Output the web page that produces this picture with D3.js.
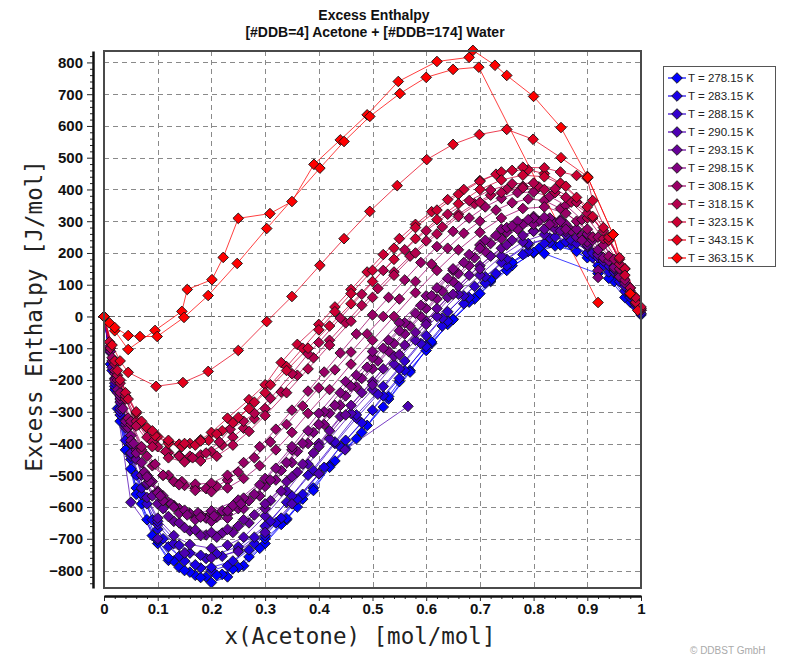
<!DOCTYPE html>
<html>
<head>
<meta charset="utf-8">
<script src="https://cdn.jsdelivr.net/npm/d3@7"></script>
<style>
  body { margin: 0; background: #fff; }
</style>
</head>
<body>
<svg id="chart" width="787" height="657" style="font-family:'Liberation Sans', Arial, sans-serif"></svg>
<script>
// Temperatures shown in the legend (K)
const temperatures = ["278.15", "283.15", "288.15", "290.15", "293.15", "298.15",
                      "308.15", "318.15", "323.15", "343.15", "363.15"];

// Axis ticks
const xTicks = [0, 0.1, 0.2, 0.3, 0.4, 0.5, 0.6, 0.7, 0.8, 0.9, 1];
const yTicks = [-800, -700, -600, -500, -400, -300, -200, -100, 0, 100, 200, 300, 400, 500, 600, 700, 800];

// Measured excess enthalpy data sets: [x(Acetone), H^E in J/mol]
const L278a = [[0,0],[0.012,-150],[0.025,-290],[0.04,-420],[0.06,-540],[0.08,-640],[0.1,-715],[0.12,-768],[0.14,-790],[0.17,-815],[0.2,-838],[0.23,-820],[0.26,-785],[0.3,-715],[0.34,-640],[0.39,-540],[0.43,-455],[0.48,-365],[0.53,-260],[0.57,-170],[0.61,-85],[0.65,-8],[0.69,55],[0.72,110],[0.76,160],[0.8,200],[0.84,222],[0.88,205],[0.92,160],[0.95,110],[0.98,45]];
const L278b = [[0,0],[0.02,-230],[0.05,-480],[0.07,-590],[0.1,-705],[0.13,-770],[0.16,-805],[0.19,-820],[0.22,-812],[0.25,-790],[0.29,-730],[0.34,-636],[0.37,-575],[0.42,-470],[0.45,-416],[0.49,-343],[0.53,-252],[0.55,-205],[0.6,-107],[0.64,-25],[0.68,45],[0.72,115],[0.76,170],[0.81,215],[0.85,225],[0.9,185],[0.94,120],[0.97,60],[1,5]];
const L278c = [[0,0],[0.03,-330],[0.06,-560],[0.09,-690],[0.12,-760],[0.15,-800],[0.18,-822],[0.21,-815],[0.24,-795],[0.27,-757],[0.3,-700],[0.33,-655],[0.36,-600],[0.39,-548],[0.42,-475],[0.47,-385],[0.52,-285],[0.57,-175],[0.61,-80],[0.65,-10],[0.7,72],[0.75,145],[0.8,202],[0.82,198],[0.92,135]];
const L283a = [[0,0],[0.015,-170],[0.03,-310],[0.05,-450],[0.07,-560],[0.1,-670],[0.12,-725],[0.15,-770],[0.18,-792],[0.2,-800],[0.23,-785],[0.27,-735],[0.3,-690],[0.33,-635],[0.37,-560],[0.41,-475],[0.45,-390],[0.5,-295],[0.55,-195],[0.6,-90],[0.63,-30],[0.67,40],[0.71,105],[0.75,160],[0.79,205],[0.83,232],[0.87,225],[0.91,185],[0.94,140],[0.97,80],[0.99,30]];
const L283b = [[0,0],[0.02,-220],[0.04,-390],[0.06,-500],[0.09,-640],[0.11,-700],[0.14,-755],[0.17,-782],[0.2,-790],[0.24,-770],[0.28,-715],[0.32,-650],[0.36,-575],[0.4,-495],[0.44,-410],[0.48,-335],[0.52,-250],[0.56,-170],[0.6,-95],[0.64,-15],[0.68,60],[0.73,135],[0.78,195],[0.82,230],[0.86,235],[0.9,200],[0.93,160],[0.96,110],[0.98,60]];
const L288a = [[0,0],[0.01,-110],[0.03,-300],[0.05,-440],[0.08,-590],[0.1,-655],[0.13,-715],[0.16,-745],[0.19,-762],[0.22,-755],[0.25,-735],[0.28,-695],[0.31,-645],[0.35,-565],[0.39,-485],[0.43,-400],[0.47,-320],[0.51,-245],[0.55,-165],[0.59,-85],[0.63,-5],[0.67,65],[0.71,125],[0.75,180],[0.79,225],[0.83,248],[0.87,240],[0.91,200],[0.94,160],[0.97,95],[1,10]];
const L288b = [[0,0],[0.02,-210],[0.05,-430],[0.07,-540],[0.1,-645],[0.14,-720],[0.18,-752],[0.21,-748],[0.25,-725],[0.3,-660],[0.34,-585],[0.38,-500],[0.43,-395],[0.47,-310],[0.52,-220],[0.56,-140],[0.6,-60],[0.64,15],[0.69,95],[0.74,170],[0.79,230],[0.84,250],[0.88,230],[0.92,185],[0.95,140],[0.98,70]];
const L290a = [[0,0],[0.015,-160],[0.03,-290],[0.05,-430],[0.08,-570],[0.1,-635],[0.13,-690],[0.16,-718],[0.2,-730],[0.23,-720],[0.26,-695],[0.3,-628],[0.34,-550],[0.38,-465],[0.42,-385],[0.46,-305],[0.5,-230],[0.54,-150],[0.58,-75],[0.62,0],[0.66,70],[0.7,130],[0.74,190],[0.78,235],[0.82,258],[0.86,258],[0.9,220],[0.93,175],[0.96,125],[0.99,40]];
const L290b = [[0,0],[0.05,-585],[0.1,-700],[0.15,-745],[0.2,-760],[0.25,-740],[0.3,-680],[0.35,-590],[0.4,-495],[0.449,-420],[0.566,-283]];
const L293a = [[0,0],[0.01,-100],[0.025,-240],[0.04,-350],[0.06,-450],[0.08,-530],[0.1,-590],[0.13,-645],[0.16,-675],[0.19,-688],[0.22,-682],[0.25,-660],[0.28,-625],[0.31,-580],[0.34,-520],[0.37,-465],[0.4,-400],[0.44,-315],[0.48,-240],[0.52,-165],[0.56,-90],[0.6,-15],[0.64,60],[0.68,130],[0.72,190],[0.76,240],[0.8,270],[0.84,275],[0.88,250],[0.92,200],[0.95,150],[0.98,70]];
const L293b = [[0,0],[0.02,-195],[0.04,-340],[0.07,-500],[0.09,-565],[0.12,-630],[0.15,-665],[0.18,-690],[0.21,-695],[0.24,-680],[0.27,-650],[0.3,-605],[0.33,-550],[0.36,-490],[0.39,-430],[0.42,-360],[0.46,-280],[0.5,-205],[0.54,-125],[0.58,-50],[0.62,25],[0.66,95],[0.7,160],[0.74,215],[0.78,255],[0.82,275],[0.86,268],[0.9,230],[0.93,185],[0.96,130],[0.99,45]];
const L293c = [[0,0],[0.03,-270],[0.05,-400],[0.08,-525],[0.11,-605],[0.14,-650],[0.17,-672],[0.2,-680],[0.23,-670],[0.26,-640],[0.3,-590],[0.35,-505],[0.4,-410],[0.45,-310],[0.5,-215],[0.55,-120],[0.6,-25],[0.65,70],[0.7,150],[0.75,225],[0.8,268],[0.85,270],[0.9,225],[0.92,195]];
const L298a = [[0,0],[0.01,-95],[0.02,-180],[0.035,-290],[0.05,-375],[0.07,-460],[0.09,-520],[0.11,-565],[0.13,-595],[0.15,-615],[0.17,-628],[0.19,-635],[0.21,-632],[0.23,-622],[0.25,-605],[0.27,-580],[0.3,-535],[0.33,-485],[0.36,-425],[0.39,-365],[0.42,-305],[0.45,-250],[0.48,-195],[0.51,-140],[0.54,-85],[0.57,-30],[0.6,25],[0.63,80],[0.66,135],[0.69,185],[0.72,230],[0.75,265],[0.78,290],[0.81,300],[0.84,295],[0.87,270],[0.9,235],[0.93,185],[0.96,125],[0.99,40]];
const L298b = [[0,0],[0.015,-140],[0.03,-260],[0.045,-350],[0.06,-420],[0.08,-500],[0.1,-550],[0.12,-585],[0.14,-605],[0.16,-620],[0.18,-625],[0.2,-622],[0.22,-612],[0.24,-595],[0.26,-572],[0.29,-530],[0.32,-478],[0.35,-420],[0.38,-360],[0.41,-300],[0.44,-240],[0.47,-185],[0.5,-130],[0.53,-75],[0.56,-20],[0.59,35],[0.62,90],[0.65,145],[0.68,195],[0.71,240],[0.74,275],[0.77,300],[0.8,315],[0.83,310],[0.86,290],[0.89,255],[0.92,210],[0.95,155],[0.98,80]];
const L298c = [[0,0],[0.02,-200],[0.04,-330],[0.06,-430],[0.085,-520],[0.11,-580],[0.14,-620],[0.17,-640],[0.2,-645],[0.23,-635],[0.26,-605],[0.29,-565],[0.32,-515],[0.35,-460],[0.38,-400],[0.41,-340],[0.44,-280],[0.47,-222],[0.5,-165],[0.53,-110],[0.56,-55],[0.59,0],[0.62,55],[0.65,110],[0.68,160],[0.71,205],[0.74,245],[0.77,275],[0.8,290],[0.83,290],[0.86,275],[0.89,240],[0.92,145]];
const L298d = [[0,0],[0.025,-230],[0.05,-390],[0.075,-490],[0.1,-555],[0.125,-590],[0.15,-610],[0.175,-618],[0.2,-612],[0.25,-578],[0.3,-510],[0.35,-410],[0.4,-305],[0.45,-205],[0.5,-110],[0.55,-20],[0.6,65],[0.65,150],[0.7,225],[0.75,280],[0.8,310],[0.85,305],[0.9,260],[0.92,123]];
const L298e = [[0,0],[0.012,-110],[0.03,-250],[0.055,-400],[0.08,-505],[0.105,-565],[0.13,-600],[0.155,-625],[0.18,-632],[0.205,-628],[0.23,-612],[0.255,-590],[0.28,-560],[0.31,-515],[0.34,-460],[0.37,-400],[0.4,-340],[0.43,-280],[0.46,-220],[0.49,-160],[0.52,-100],[0.55,-45],[0.58,10],[0.61,65],[0.64,120],[0.67,170],[0.7,215],[0.73,255],[0.76,285],[0.79,305],[0.82,312],[0.85,300],[0.88,275],[0.91,240],[0.94,175],[0.97,105],[1,20]];
const L308a = [[0,0],[0.015,-130],[0.03,-240],[0.05,-340],[0.07,-420],[0.09,-470],[0.11,-500],[0.13,-520],[0.15,-532],[0.17,-540],[0.19,-542],[0.21,-535],[0.23,-515],[0.25,-490],[0.28,-445],[0.31,-395],[0.34,-340],[0.37,-282],[0.4,-225],[0.43,-168],[0.46,-112],[0.49,-55],[0.52,0],[0.55,55],[0.58,110],[0.61,165],[0.64,215],[0.67,262],[0.7,300],[0.73,335],[0.76,358],[0.79,370],[0.82,365],[0.85,340],[0.88,300],[0.91,250],[0.94,190],[0.97,115],[1,20]];
const L308b = [[0,0],[0.02,-170],[0.045,-320],[0.07,-410],[0.095,-465],[0.12,-500],[0.145,-520],[0.17,-528],[0.2,-525],[0.23,-500],[0.26,-460],[0.29,-410],[0.32,-355],[0.35,-295],[0.38,-235],[0.41,-175],[0.44,-115],[0.47,-55],[0.5,5],[0.53,60],[0.56,115],[0.59,170],[0.62,220],[0.65,268],[0.68,310],[0.71,345],[0.74,372],[0.77,390],[0.8,392],[0.83,378],[0.86,350],[0.89,305],[0.92,250],[0.95,180],[0.98,90]];
const L308c = [[0,0],[0.025,-200],[0.05,-330],[0.08,-440],[0.11,-500],[0.14,-530],[0.17,-548],[0.2,-552],[0.23,-540],[0.26,-510],[0.29,-470],[0.32,-420],[0.35,-365],[0.38,-305],[0.42,-230],[0.46,-150],[0.5,-75],[0.54,0],[0.58,75],[0.62,145],[0.66,210],[0.7,265],[0.74,310],[0.78,340],[0.82,345],[0.86,325],[0.9,275],[0.93,225],[0.96,150],[0.99,55]];
const L318a = [[0,0],[0.012,-100],[0.025,-185],[0.04,-260],[0.06,-330],[0.08,-380],[0.1,-410],[0.12,-428],[0.14,-438],[0.16,-440],[0.18,-436],[0.2,-425],[0.22,-405],[0.24,-380],[0.26,-352],[0.28,-322],[0.3,-290],[0.33,-238],[0.36,-185],[0.39,-130],[0.42,-75],[0.45,-20],[0.48,35],[0.51,88],[0.54,140],[0.57,190],[0.6,238],[0.63,282],[0.66,322],[0.69,355],[0.72,382],[0.75,400],[0.78,410],[0.81,408],[0.84,390],[0.87,360],[0.9,310],[0.93,245],[0.96,165],[0.99,60]];
const L318b = [[0,0],[0.02,-150],[0.04,-250],[0.065,-340],[0.09,-395],[0.115,-425],[0.14,-440],[0.165,-445],[0.19,-430],[0.215,-395],[0.235,-355],[0.26,-330],[0.28,-305],[0.31,-258],[0.35,-180],[0.38,-118],[0.4,-82],[0.44,-5],[0.48,70],[0.52,145],[0.56,210],[0.6,270],[0.64,322],[0.68,365],[0.72,398],[0.76,418],[0.8,420],[0.84,402],[0.88,360],[0.91,310],[0.94,240],[0.97,150],[1,25]];
const L318c = [[0,0],[0.03,-210],[0.06,-345],[0.09,-410],[0.12,-445],[0.15,-458],[0.18,-455],[0.21,-440],[0.24,-405],[0.27,-362],[0.3,-312],[0.34,-240],[0.38,-165],[0.42,-90],[0.46,-15],[0.5,60],[0.54,130],[0.58,200],[0.62,260],[0.66,315],[0.7,360],[0.74,390],[0.78,405],[0.82,400],[0.86,375],[0.9,325],[0.93,270],[0.96,180],[0.98,90]];
const L323a = [[0,0],[0.01,-80],[0.025,-170],[0.04,-240],[0.06,-305],[0.08,-350],[0.1,-378],[0.12,-395],[0.14,-402],[0.16,-400],[0.18,-388],[0.2,-365],[0.23,-320],[0.27,-262],[0.3,-215],[0.33,-145],[0.36,-88],[0.4,-25],[0.43,30],[0.46,85],[0.49,140],[0.52,195],[0.55,245],[0.58,290],[0.61,330],[0.64,368],[0.67,400],[0.7,428],[0.73,448],[0.76,460],[0.79,462],[0.82,450],[0.85,420],[0.88,375],[0.91,315],[0.94,240],[0.97,150],[1,30]];
const L323b = [[0,0],[0.02,-140],[0.045,-260],[0.07,-330],[0.095,-375],[0.12,-400],[0.145,-410],[0.17,-405],[0.195,-390],[0.22,-360],[0.25,-318],[0.28,-270],[0.31,-215],[0.34,-158],[0.37,-100],[0.4,-42],[0.43,15],[0.46,72],[0.5,145],[0.54,215],[0.58,280],[0.62,335],[0.66,385],[0.7,425],[0.74,455],[0.78,470],[0.82,468],[0.85,455],[0.88,444],[0.9,435],[0.91,365],[0.94,250],[0.97,130],[0.99,45]];
const L323c = [[0,0],[0.03,-200],[0.06,-300],[0.09,-360],[0.12,-390],[0.15,-400],[0.18,-392],[0.21,-370],[0.24,-335],[0.27,-290],[0.3,-240],[0.34,-170],[0.38,-100],[0.42,-30],[0.46,40],[0.5,110],[0.54,180],[0.58,245],[0.62,305],[0.66,355],[0.7,400],[0.74,430],[0.78,445],[0.82,440],[0.86,410],[0.9,345],[0.93,280],[0.96,185],[0.99,60]];
const L343a = [[0,0],[0.015,-90],[0.03,-140],[0.045,-176],[0.097,-220],[0.147,-208],[0.194,-173],[0.25,-107],[0.303,-16],[0.35,63],[0.402,161],[0.447,245],[0.495,331],[0.546,412],[0.601,494],[0.65,542],[0.699,573],[0.75,589],[0.799,558],[0.851,500],[0.9,441],[0.948,258],[0.98,72],[0.994,19]];
const L363a = [[0,0],[0.01,-20],[0.02,-45],[0.045,-104],[0.095,-44],[0.145,16],[0.155,85],[0.201,116],[0.222,186],[0.25,309],[0.309,324],[0.35,362],[0.391,479],[0.44,556],[0.49,635],[0.548,740],[0.62,803],[0.68,816],[0.687,838],[0.728,791],[0.75,759],[0.8,693],[0.851,595],[0.901,438],[0.948,258],[0.98,72]];
const L363b = [[0,0],[0.02,-35],[0.045,-60],[0.067,-63],[0.099,-63],[0.149,-3],[0.194,66],[0.248,167],[0.303,277],[0.402,467],[0.447,551],[0.495,630],[0.551,702],[0.6,753],[0.65,778],[0.698,785],[0.92,44]];

// Data set -> temperature index
const datasets = [
  [0, L278a], [0, L278b], [0, L278c],
  [1, L283a], [1, L283b],
  [2, L288a], [2, L288b],
  [3, L290a], [3, L290b],
  [4, L293a], [4, L293b], [4, L293c],
  [5, L298a], [5, L298b], [5, L298c], [5, L298d], [5, L298e],
  [6, L308a], [6, L308b], [6, L308c],
  [7, L318a], [7, L318b], [7, L318c],
  [8, L323a], [8, L323b], [8, L323c],
  [9, L343a],
  [10, L363a], [10, L363b]
];

const svg = d3.select("#chart");
const frame = { left: 104, right: 641, top: 51, bottom: 588 };
const sans = "'Liberation Sans', Arial, sans-serif";
const mono = "'DejaVu Sans Mono', monospace";

const x = d3.scaleLinear().domain([0, 1]).range([frame.left, frame.right]);
const y = d3.scaleLinear().domain([-855, 836]).range([frame.bottom, frame.top]);
const color = i => d3.interpolateRgb("rgb(0,0,255)", "rgb(255,0,0)")(i / (temperatures.length - 1));

// Title
const title = svg.append("g").style("font-family", sans).attr("font-weight", "bold")
  .attr("font-size", 14).attr("text-anchor", "middle").attr("fill", "#111");
title.append("text").attr("x", 374).attr("y", 20).text("Excess Enthalpy");
title.append("text").attr("x", 375).attr("y", 37).text("[#DDB=4] Acetone + [#DDB=174] Water");

// Plot background and grid
svg.append("rect").attr("x", frame.left).attr("y", frame.top)
  .attr("width", frame.right - frame.left).attr("height", frame.bottom - frame.top).attr("fill", "#fff");

const grid = svg.append("g").attr("stroke", "#8a8a8a").attr("stroke-width", 1);
grid.selectAll("line.h").data(yTicks).join("line")
  .attr("x1", frame.left).attr("x2", frame.right)
  .attr("y1", d => Math.round(y(d)) + 0.5).attr("y2", d => Math.round(y(d)) + 0.5)
  .attr("stroke", d => d === 0 ? "#666" : "#8a8a8a")
  .attr("stroke-dasharray", d => d === 0 ? "11,3,3,3" : "5,4");
grid.selectAll("line.v").data(xTicks.filter(d => d > 0 && d < 1)).join("line")
  .attr("y1", frame.top).attr("y2", frame.bottom)
  .attr("x1", d => Math.round(x(d)) + 0.5).attr("x2", d => Math.round(x(d)) + 0.5)
  .attr("stroke-dasharray", "5,4");

// Series lines and markers
const line = d3.line().x(d => x(d[0])).y(d => y(d[1]));
svg.append("clipPath").attr("id", "plotclip").append("rect")
  .attr("x", frame.left - 7).attr("y", frame.top - 7)
  .attr("width", frame.right - frame.left + 14).attr("height", frame.bottom - frame.top + 14);
const series = svg.append("g").attr("clip-path", "url(#plotclip)");

datasets.forEach(([ti, pts]) => {
  series.append("path").datum(pts)
    .attr("d", line).attr("fill", "none")
    .attr("stroke", color(ti)).attr("stroke-width", 1).attr("stroke-opacity", 0.75);
});
const diamond = d3.symbol().type(d3.symbolDiamond2).size(72);
datasets.forEach(([ti, pts]) => {
  series.selectAll(null).data(pts).join("path")
    .attr("d", diamond)
    .attr("transform", d => `translate(${x(d[0])},${y(d[1])})`)
    .attr("fill", color(ti)).attr("stroke", "#111").attr("stroke-width", 0.9);
});

// Plot frame
svg.append("rect").attr("x", frame.left).attr("y", frame.top)
  .attr("width", frame.right - frame.left).attr("height", frame.bottom - frame.top)
  .attr("fill", "none").attr("stroke", "#4a4a4a").attr("stroke-width", 2);

// Y axis (detached, left of the frame)
const yMinor = d3.range(-840, 840, 20).filter(v => v % 100 !== 0);
svg.append("g").attr("transform", "translate(93,0)")
  .call(d3.axisLeft(y).tickValues(yMinor).tickSize(3).tickSizeOuter(0).tickFormat(""))
  .call(g => g.select(".domain").remove())
  .call(g => g.selectAll("line").attr("stroke", "#222"));
const yAxis = svg.append("g").attr("transform", "translate(93,0)")
  .call(d3.axisLeft(y).tickValues(yTicks).tickSize(6).tickSizeOuter(0).tickPadding(4).tickFormat(d3.format("d")));
yAxis.select(".domain").attr("stroke", "#111").attr("stroke-width", 2.5);
yAxis.selectAll("line").attr("stroke", "#222");
yAxis.selectAll("text").attr("font-size", 15).attr("font-weight", "bold").attr("fill", "#111")
  .style("font-family", sans);

// X axis (detached, below the frame)
const xMinor = d3.range(0.02, 1, 0.02).filter(v => Math.abs(v * 10 - Math.round(v * 10)) > 1e-6);
svg.append("g").attr("transform", "translate(0,596)")
  .call(d3.axisBottom(x).tickValues(xMinor).tickSize(3).tickSizeOuter(0).tickFormat(""))
  .call(g => g.select(".domain").remove())
  .call(g => g.selectAll("line").attr("stroke", "#222"));
const xAxis = svg.append("g").attr("transform", "translate(0,596)")
  .call(d3.axisBottom(x).tickValues(xTicks).tickSize(5).tickSizeOuter(0).tickPadding(2).tickFormat(d => String(d)));
xAxis.select(".domain").attr("stroke", "#111").attr("stroke-width", 2.5);
xAxis.selectAll("line").attr("stroke", "#222");
xAxis.selectAll("text").attr("font-size", 15).attr("font-weight", "bold").attr("fill", "#111")
  .style("font-family", sans);

// Axis titles
svg.append("text").attr("x", 360).attr("y", 644).attr("text-anchor", "middle")
  .style("font-family", mono).attr("font-size", 22.5).attr("fill", "#222")
  .text("x(Acetone) [mol/mol]");
svg.append("text").attr("transform", "translate(42,316) rotate(-90)").attr("text-anchor", "middle")
  .style("font-family", mono).attr("font-size", 22.5).attr("fill", "#222")
  .text("Excess Enthalpy [J/mol]");

// Legend
const legend = svg.append("g").style("font-family", sans);
legend.append("rect").attr("x", 663.5).attr("y", 66.5).attr("width", 112).attr("height", 200)
  .attr("fill", "#fff").attr("stroke", "#555").attr("stroke-width", 1);
const items = legend.selectAll("g.item").data(temperatures).join("g")
  .attr("transform", (d, i) => `translate(0,${78 + i * 18})`);
items.append("line").attr("x1", 668).attr("x2", 686).attr("y1", 0).attr("y2", 0)
  .attr("stroke", (d, i) => color(i)).attr("stroke-width", 1.2);
items.append("path").attr("d", diamond).attr("transform", "translate(677,0)")
  .attr("fill", (d, i) => color(i)).attr("stroke", "#111").attr("stroke-width", 0.9);
items.append("text").attr("x", 688).attr("y", 0).attr("dy", "0.35em")
  .attr("font-size", 11.5).attr("fill", "#222").text(d => `T = ${d} K`);

// Copyright
svg.append("text").attr("x", 690).attr("y", 654).style("font-family", sans)
  .attr("font-size", 10).attr("fill", "#aaa").text("© DDBST GmbH");
</script>
</body>
</html>
